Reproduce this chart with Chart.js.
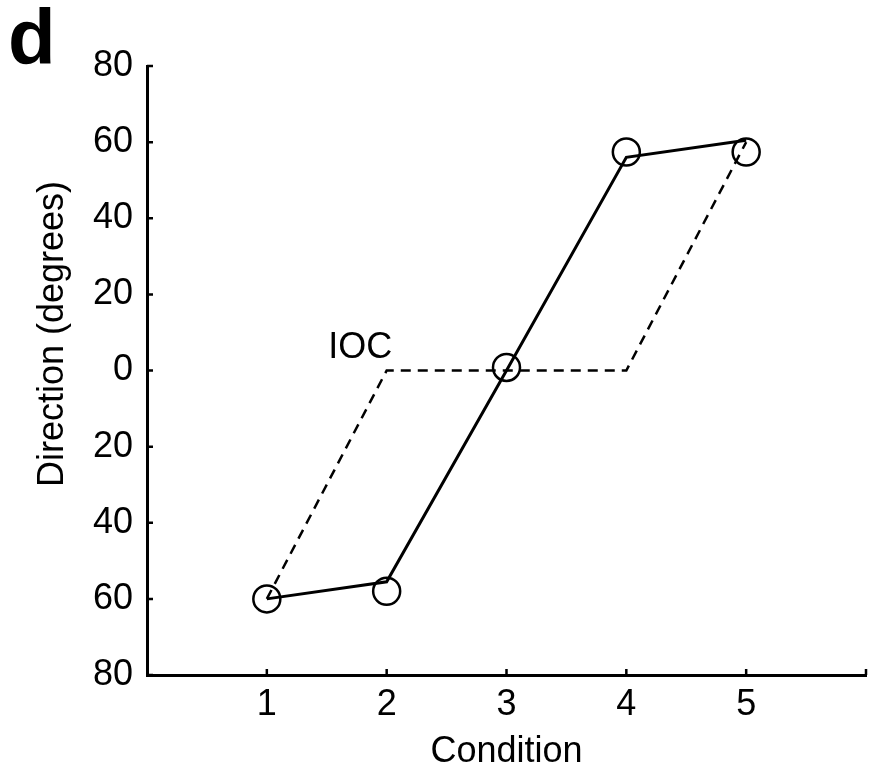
<!DOCTYPE html>
<html>
<head>
<meta charset="utf-8">
<script src="https://cdn.jsdelivr.net/npm/chart.js@4.4.0/dist/chart.umd.min.js"></script>
<style>
  html, body { margin: 0; padding: 0; background: #fff; }
  #wrap { width: 875px; height: 778px; }
</style>
</head>
<body>
<div id="wrap"><canvas id="chart" width="875" height="778"></canvas></div>
<script>
// condition numbers on x axis
const conditions = [1, 2, 3, 4, 5]
// perceived direction (solid line)
const perceivedLine = [-60, -55.5, 0, 56, 60.5]
// measured points (open circles)
const measuredPts = [-60, -58, 0.8, 57.4, 57.4]
// IOC prediction (dashed)
const iocDir = [-60, 0, 0, 0, 60]
const yTicks = [-80, -60, -40, -20, 0, 20, 40, 60, 80]
const xTicks = [1, 2, 3, 4, 5]

const FONT = "'Liberation Sans', Arial, sans-serif"
const RIGHT_EDGE = 866

let toPts = (xs, ys) => xs.map((x, i) => ({x: x, y: ys[i]}))

// inward tick marks + free text (panel letter, y title, IOC)
const extras = {
    id: 'extras',
    afterLayout(chart) {
        // stretch the x axis out to the right edge of the original figure
        let xs = chart.scales.x
        xs.right = RIGHT_EDGE
        xs.width = xs.right - xs.left
        xs.paddingRight = 0
        xs.configure()
        chart.chartArea.right = RIGHT_EDGE
        chart.chartArea.width = RIGHT_EDGE - chart.chartArea.left
    },
    afterDraw(chart) {
        let ctx = chart.ctx
        let xs = chart.scales.x
        let ys = chart.scales.y
        let area = chart.chartArea
        ctx.save()
        ctx.strokeStyle = '#000'
        ctx.lineWidth = 2.5
        ctx.beginPath()
        yTicks.forEach(v => {
            let py = ys.getPixelForValue(v)
            ctx.moveTo(area.left, py)
            ctx.lineTo(area.left + 6, py)
        })
        xTicks.concat([6]).forEach(v => {
            let px = xs.getPixelForValue(v)
            ctx.moveTo(px, area.bottom)
            ctx.lineTo(px, area.bottom - 6)
        })
        ctx.stroke()

        ctx.fillStyle = '#000'
        ctx.font = 'bold 78px ' + FONT
        ctx.textAlign = 'left'
        ctx.textBaseline = 'alphabetic'
        ctx.fillText('d', 8, 64)

        ctx.font = '36px ' + FONT
        ctx.textAlign = 'center'
        ctx.fillText('IOC', xs.getPixelForValue(1.78), ys.getPixelForValue(3.2))

        ctx.translate(53, 334)
        ctx.rotate(-Math.PI / 2)
        ctx.textBaseline = 'middle'
        ctx.fillText('Direction (degrees)', 0, 0)
        ctx.restore()
    }
}

let ctx = document.getElementById('chart')
let myChart = new Chart(ctx, {
    type: 'scatter',
    data: {
        datasets: [
            {
                data: toPts(conditions, iocDir),
                showLine: true,
                borderColor: '#000',
                borderWidth: 2.5,
                borderDash: [10, 7],
                pointRadius: 0,
                fill: false
            },
            {
                data: toPts(conditions, perceivedLine),
                showLine: true,
                borderColor: '#000',
                borderWidth: 3,
                pointRadius: 0,
                fill: false
            },
            {
                data: toPts(conditions, measuredPts),
                showLine: false,
                pointRadius: 13.5,
                pointBorderWidth: 2.5,
                pointBorderColor: '#000',
                pointBackgroundColor: 'rgba(0,0,0,0)'
            }
        ]
    },
    options: {
        responsive: false,
        animation: false,
        layout: { padding: { top: 66, right: 9, left: 0, bottom: 0 } },
        plugins: { legend: { display: false }, tooltip: { enabled: false } },
        scales: {
            x: {
                type: 'linear',
                min: 0,
                max: 6,
                afterFit: s => { s.height = 103; s.paddingLeft = 0; s.paddingRight = 0 },
                grid: { display: false, drawTicks: false },
                border: { display: true, color: '#000', width: 3 },
                ticks: {
                    stepSize: 1,
                    padding: 8,
                    color: '#000',
                    font: { family: FONT, size: 36 },
                    callback: v => (v >= 1 && v <= 5) ? String(v) : ''
                },
                title: {
                    display: true,
                    text: 'Condition',
                    color: '#000',
                    font: { family: FONT, size: 36 },
                    padding: { top: 0, bottom: 4 }
                }
            },
            y: {
                type: 'linear',
                min: -80,
                max: 80,
                afterFit: s => { s.width = 147; s.paddingTop = 0; s.paddingBottom = 0 },
                grid: { display: false, drawTicks: false },
                border: { display: true, color: '#000', width: 3 },
                ticks: {
                    stepSize: 20,
                    padding: 14,
                    color: '#000',
                    font: { family: FONT, size: 36 },
                    callback: v => String(Math.abs(v))
                }
            }
        }
    },
    plugins: [extras]
})
</script>
</body>
</html>
